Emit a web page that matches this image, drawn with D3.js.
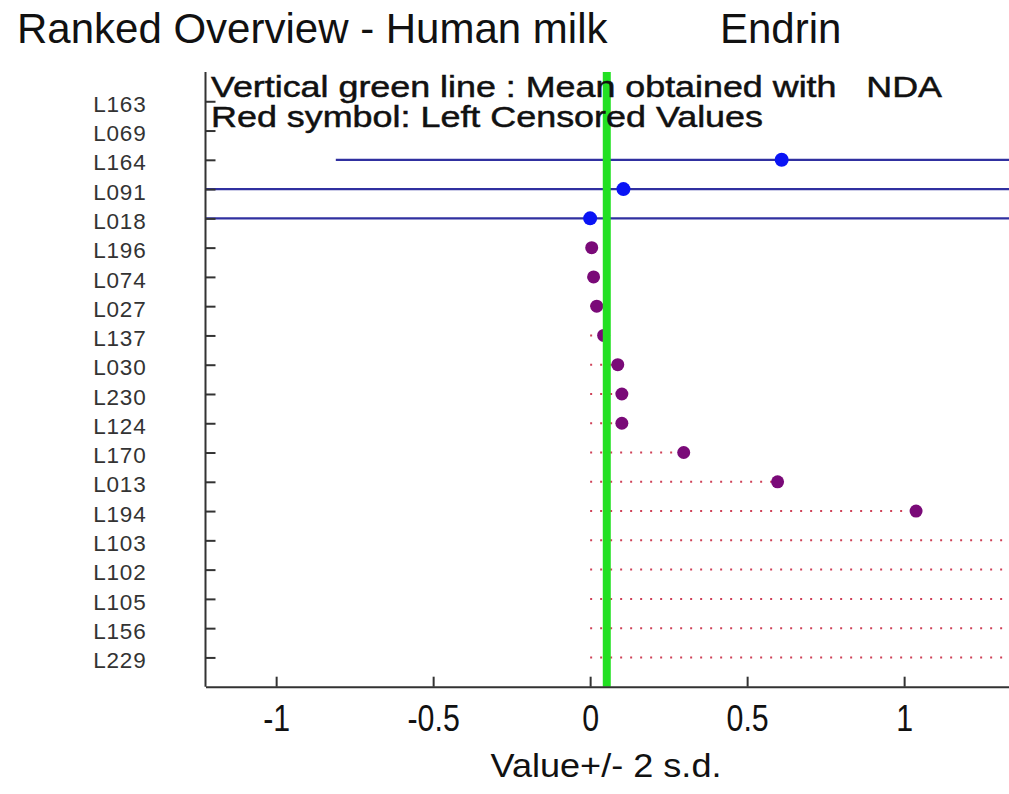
<!DOCTYPE html>
<html><head><meta charset="utf-8">
<script src="https://cdn.jsdelivr.net/npm/d3@7"></script>
<style>
html,body{margin:0;padding:0;background:#fff;}
svg{display:block;}
text{font-family:"Liberation Sans",Arial,sans-serif;}
</style></head>
<body>
<svg id="chart" width="1009" height="794"></svg>
<script>
// ---- data ----
const labs = ["L163","L069","L164","L091","L018","L196","L074","L027","L137","L030","L230","L124","L170","L013","L194","L103","L102","L105","L156","L229"];
const values = [null,null,0.61,0.106,0.0,0.005,0.011,0.021,0.043,0.088,0.101,0.101,0.298,0.597,1.038,1.6,1.8,2.1,2.6,3.2];
const twoSD = [null,null,1.42,1.5,1.6,null,null,null,null,null,null,null,null,null,null,null,null,null,null,null];
const censored = [false,false,false,false,false,true,true,true,true,true,true,true,true,true,true,true,true,true,true,true];
const meanNDA = 0.053;
const xTicks = [-1,-0.5,0,0.5,1];
const titleMain = "Ranked Overview - Human milk";
const titleRight = "Endrin";
const legend1 = "Vertical green line : Mean obtained with   NDA";
const legend2 = "Red symbol: Left Censored Values";
const xLabel = "Value+/- 2 s.d.";

// ---- layout ----
const svg = d3.select("#chart");
const pLeft = 205.5, pRight = 1009, pTop = 72, pBottom = 686.7;
const x = d3.scaleLinear().domain([-1.225, 1.334]).range([pLeft, pRight]);
const y = d3.scaleLinear().domain([-1, labs.length]).range([pTop, pBottom]);

svg.append("defs").append("clipPath").attr("id","clip")
  .append("rect").attr("x",pLeft).attr("y",pTop-10).attr("width",pRight-pLeft).attr("height",pBottom-pTop+10);

const plot = svg.append("g").attr("clip-path","url(#clip)");

const idx = d3.range(labs.length);

// censored dotted lines
plot.selectAll("line.cens").data(idx.filter(i => values[i] !== null && censored[i]))
  .join("line").attr("class","cens")
  .attr("x1", x(0)).attr("x2", i => x(values[i]))
  .attr("y1", i => y(i)).attr("y2", i => y(i))
  .attr("stroke","#cf4258").attr("stroke-width",2).attr("stroke-dasharray","2,8");

// error bars
plot.selectAll("line.err").data(idx.filter(i => twoSD[i] !== null))
  .join("line").attr("class","err")
  .attr("x1", i => x(values[i]-twoSD[i])).attr("x2", i => x(values[i]+twoSD[i]))
  .attr("y1", i => y(i)).attr("y2", i => y(i))
  .attr("stroke","#3030a0").attr("stroke-width",2.2);

// points
plot.selectAll("circle.pt").data(idx.filter(i => values[i] !== null))
  .join("circle").attr("class","pt")
  .attr("cx", i => x(values[i])).attr("cy", i => y(i))
  .attr("r", i => censored[i] ? 6.5 : 7)
  .attr("fill", i => censored[i] ? "#7a0a78" : "#0a14f5");

// mean line
svg.append("line")
  .attr("x1", x(meanNDA)).attr("x2", x(meanNDA))
  .attr("y1", pTop).attr("y2", pBottom)
  .attr("stroke","#22e022").attr("stroke-width",8);

// axes
const xAxis = d3.axisBottom(x).tickValues(xTicks).tickFormat(d => String(d))
  .tickSizeInner(-10).tickSizeOuter(0).tickPadding(18);
const gx = svg.append("g").attr("transform",`translate(0,${pBottom})`).call(xAxis);
gx.select(".domain").attr("stroke","#333").attr("stroke-width",2);
gx.selectAll(".tick line").attr("stroke","#333").attr("stroke-width",2);
gx.selectAll(".tick text").attr("font-size",37).attr("fill","#111")
  .attr("font-family","'Liberation Sans',Arial,sans-serif")
  .attr("transform","scale(0.82,1)");

const yAxis = d3.axisLeft(y).tickValues(idx).tickFormat(i => labs[i])
  .tickSizeInner(-10).tickSizeOuter(0).tickPadding(59);
const gy = svg.append("g").attr("transform",`translate(${pLeft},0)`).call(yAxis);
gy.select(".domain").attr("stroke","#333").attr("stroke-width",2)
  .attr("d", `M0,${pTop}V${pBottom}`);
gy.selectAll(".tick line").attr("stroke","#333").attr("stroke-width",2);
gy.selectAll(".tick text").attr("font-size",22.5).attr("fill","#333")
  .attr("font-family","'Liberation Sans',Arial,sans-serif")
  .attr("letter-spacing","0.8px").attr("dy","0.45em");

// title
svg.append("text").attr("x",17).attr("y",43).attr("font-size",42).attr("fill","#111").text(titleMain);
svg.append("text").attr("x",720).attr("y",43).attr("font-size",42).attr("fill","#111").text(titleRight);

// legend text
svg.append("text").attr("x",211).attr("y",96.5).attr("font-size",30).attr("fill","#111")
  .attr("stroke","#111").attr("stroke-width",0.5)
  .style("white-space","pre").attr("textLength",731).attr("lengthAdjust","spacingAndGlyphs").text(legend1);
svg.append("text").attr("x",211).attr("y",127).attr("font-size",30).attr("fill","#111")
  .attr("stroke","#111").attr("stroke-width",0.5)
  .attr("textLength",552).attr("lengthAdjust","spacingAndGlyphs").text(legend2);

// x label
svg.append("text").attr("x",606).attr("y",777).attr("text-anchor","middle")
  .attr("font-size",34).attr("fill","#111")
  .attr("textLength",231).attr("lengthAdjust","spacingAndGlyphs").text(xLabel);
</script>
</body></html>
